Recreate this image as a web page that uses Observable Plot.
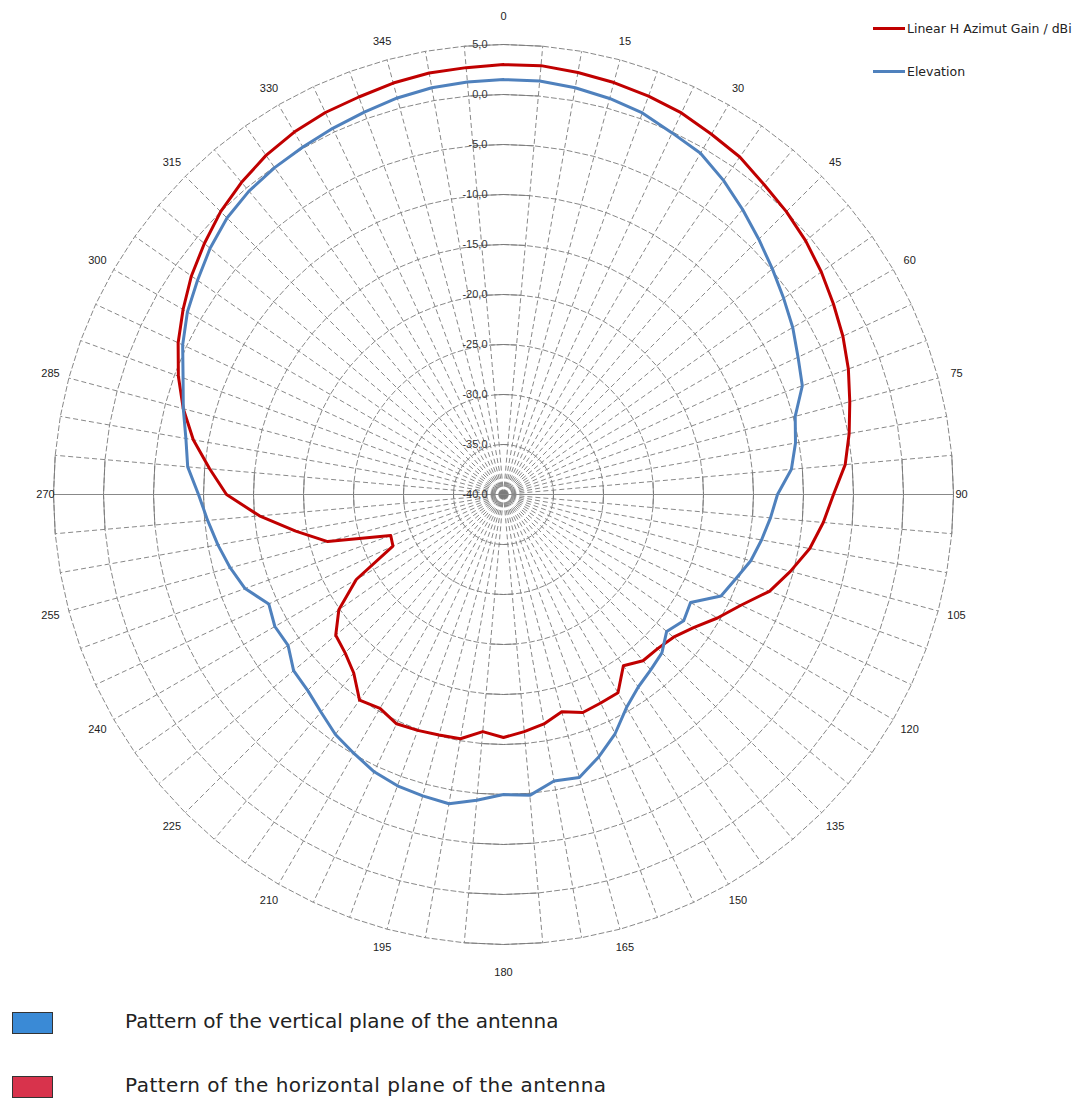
<!DOCTYPE html>
<html>
<head>
<meta charset="utf-8">
<script src="https://cdn.jsdelivr.net/npm/d3@7"></script>
<script src="https://cdn.jsdelivr.net/npm/@observablehq/plot@0.6"></script>
<style>
  html, body { margin: 0; padding: 0; background: #fff; }
  body { font-family: "Liberation Sans", Arial, sans-serif; }
  #wrap { position: relative; width: 1087px; height: 1099px; overflow: hidden; }
  #chart { position: absolute; left: 0; top: 0; }
  .tl { position: absolute; font-family: "DejaVu Sans", sans-serif; font-size: 12.5px; color: #222; white-space: nowrap; display: flex; align-items: center; }
  .tl .sw { display: inline-block; width: 32px; height: 3px; margin-right: 2px; }
  .bl { position: absolute; left: 12px; font-family: "DejaVu Sans", sans-serif; font-size: 20px; color: #222; white-space: nowrap; }
  .bl .sq { position: absolute; left: 0; top: 0; width: 39px; height: 20px; border: 1px solid #333; }
  .bl .tx { position: absolute; left: 113px; top: -3px; }
</style>
</head>
<body>
<div id="wrap">
  <div id="chart"></div>
  <div class="tl" style="left:873px; top:21px;"><span class="sw" style="background:#c00000"></span>Linear H Azimut Gain / dBi</div>
  <div class="tl" style="left:873px; top:64px;"><span class="sw" style="background:#4f81bd"></span>Elevation</div>
  <div class="bl" style="top:1012px;"><span class="sq" style="background:#3a8ad6"></span><span class="tx">Pattern of the vertical plane of the antenna</span></div>
  <div class="bl" style="top:1076px;"><span class="sq" style="background:#d8334c"></span><span class="tx" style="letter-spacing:0.5px">Pattern of the horizontal plane of the antenna</span></div>
</div>
<script>
// ---- Data ----
const angles = d3.range(0, 360, 5); // category angles, degrees

// Linear H Azimut Gain / dBi (horizontal plane) - red
const horizontal = [
  3.0, 3.05, 2.85, 2.65, 2.4, 2.1, 1.6, 1.2, 0.5, 0.0, -0.55, -1.2,
  -1.9, -2.55, -3.3, -4.15, -4.9, -5.7, -7.0, -7.9, -8.9, -10.3, -11.7, -13.8,
  -15.3, -16.8, -17.8, -18.2, -18.3, -19.1, -17.1, -17.0, -16.8, -17.5, -16.7, -16.2,
  -15.7, -16.2, -15.2, -15.1, -14.9, -14.7, -15.3, -14.9, -16.7, -17.6, -18.1, -19.9,
  -23.0, -27.8, -28.0, -21.8, -18.9, -15.5, -12.3, -10.5, -8.5, -6.85, -5.4, -4.1,
  -3.0, -1.9, -0.95, 0.0, 0.75, 1.4, 1.85, 2.15, 2.3, 2.6, 2.8, 2.85
];

// Elevation (vertical plane) - blue
const vertical = [
  1.5, 1.5, 1.3, 1.0, 0.6, -0.1, -0.6, -1.65, -2.8, -3.9, -4.9, -5.8,
  -6.6, -7.5, -8.2, -9.8, -10.35, -11.1, -12.6, -13.2, -13.8, -14.4, -15.3, -16.0,
  -18.4, -18.0, -18.7, -17.6, -17.1, -16.5, -15.4, -13.6, -12.1, -10.7, -10.9, -9.8,
  -10.0, -9.3, -8.6, -8.8, -9.0, -9.4, -10.1, -10.7, -11.6, -12.3, -12.6, -13.7,
  -13.6, -14.1, -12.5, -11.7, -11.0, -10.3, -9.5, -8.3, -7.75, -6.85, -5.9, -4.6,
  -3.5, -2.65, -1.7, -0.9, -0.4, -0.1, 0.12, 0.4, 0.7, 1.05, 1.3, 1.4
];

const ringValues = [-40, -35, -30, -25, -20, -15, -10, -5, 0, 5];
const angleLabels = [0, 15, 30, 45, 60, 75, 90, 105, 120, 135, 150, 165, 180, 195, 210, 225, 240, 255, 270, 285, 300, 315, 330, 345];

// ---- Helpers ----
const rMin = -40, rMax = 5;
const rad = a => a * Math.PI / 180;
const X = (a, v) => (v - rMin) * Math.sin(rad(a));
const Y = (a, v) => (v - rMin) * Math.cos(rad(a));

function closedSeries(values, name) {
  const pts = angles.map((a, i) => ({a, v: values[i], s: name}));
  pts.push({...pts[0]});
  return pts;
}
const redData = closedSeries(horizontal, "h");
const blueData = closedSeries(vertical, "v");

// ring polygons
const ringData = [];
ringValues.filter(v => v > rMin).forEach(v => {
  angles.concat([0]).forEach(a => ringData.push({a, v}));
});
// ring chord segments near the axes (drawn solid)
const chordData = [];
ringValues.filter(v => v > rMin).forEach(v => {
  [0, 90, 180, 270].forEach(c => {
    chordData.push({a1: c - 5, a2: c, v});
    chordData.push({a1: c, a2: c + 5, v});
  });
});
// spokes
const spokes = angles.filter(a => a !== 0 && a !== 180 && a !== 90 && a !== 270);

const fmt = v => (v.toFixed(1)).replace(".", ",");
// label radius (in chart units) — labels sit just outside the outer ring
const labelR = a => {
  const m = a % 180;
  if (m === 0) return 47.8;
  if (m === 90) return 45.8;
  return 46.9;
};

const plot = Plot.plot({
  width: 1087,
  height: 1000,
  margin: 0,
  x: {domain: [-50.3, 58.4], axis: null},
  y: {domain: [-50.6, 49.4], axis: null},
  style: {background: "transparent"},
  marks: [
    Plot.link(spokes, {
      x1: 0, y1: 0,
      x2: a => X(a, rMax), y2: a => Y(a, rMax),
      stroke: "#7a7a7a", strokeWidth: 0.9, strokeDasharray: "5,3"
    }),
    Plot.line(ringData, {
      x: d => X(d.a, d.v), y: d => Y(d.a, d.v), z: "v",
      stroke: "#7a7a7a", strokeWidth: 0.9, strokeDasharray: "5,3"
    }),
    Plot.link(chordData, {
      x1: d => X(d.a1, d.v), y1: d => Y(d.a1, d.v),
      x2: d => X(d.a2, d.v), y2: d => Y(d.a2, d.v),
      stroke: "#7a7a7a", strokeWidth: 0.9
    }),
    Plot.link([270], {
      x1: a => X(a, rMax), y1: a => Y(a, rMax),
      x2: a => X(a - 180, rMax), y2: a => Y(a - 180, rMax),
      stroke: "#888", strokeWidth: 1.2
    }),
    Plot.text(ringValues, {
      x: 0, y: v => v - rMin, text: fmt,
      textAnchor: "end", dx: -16, fontSize: 11, fill: "#333",
      fontFamily: "Liberation Sans, Arial, sans-serif"
    }),
    Plot.text(angleLabels, {
      x: a => labelR(a) * Math.sin(rad(a)),
      y: a => labelR(a) * Math.cos(rad(a)),
      text: a => String(a), fontSize: 11, fill: "#222",
      fontFamily: "Liberation Sans, Arial, sans-serif"
    }),
    Plot.line(redData, {
      x: d => X(d.a, d.v), y: d => Y(d.a, d.v),
      stroke: "#c00000", strokeWidth: 3, strokeLinejoin: "round"
    }),
    Plot.line(blueData, {
      x: d => X(d.a, d.v), y: d => Y(d.a, d.v),
      stroke: "#4f81bd", strokeWidth: 3, strokeLinejoin: "round"
    })
  ]
});
document.getElementById("chart").appendChild(plot);
</script>
</body>
</html>
